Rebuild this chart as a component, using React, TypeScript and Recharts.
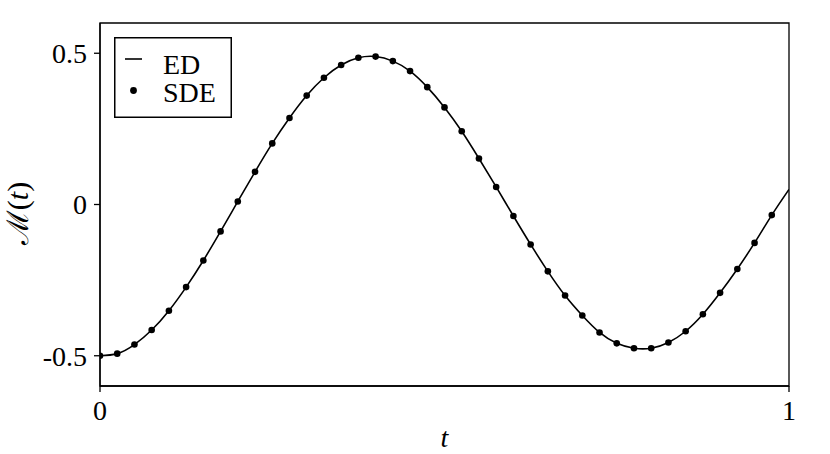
import React from "react";
import {
  ComposedChart,
  Line,
  Scatter,
  XAxis,
  YAxis,
  Legend,
  ReferenceArea,
} from "recharts";

const FONT = "Liberation Serif, Times New Roman, DejaVu Serif, serif";

// SDE samples (dots)
const sdeT = [
  0, 0.025, 0.05, 0.075, 0.1, 0.125, 0.15, 0.175, 0.2, 0.225,
  0.25, 0.275, 0.3, 0.325, 0.35, 0.375, 0.4, 0.425, 0.45, 0.475,
  0.5, 0.525, 0.55, 0.575, 0.6, 0.625, 0.65, 0.675, 0.7, 0.725,
  0.75, 0.775, 0.8, 0.825, 0.85, 0.875, 0.9, 0.925, 0.95, 0.975,
];
const sdeM = [
  -0.5, -0.493, -0.463, -0.415, -0.351, -0.273, -0.185, -0.089, 0.01, 0.108,
  0.202, 0.286, 0.36, 0.419, 0.461, 0.485, 0.489, 0.474, 0.441, 0.388,
  0.321, 0.242, 0.152, 0.058, -0.038, -0.132, -0.221, -0.301, -0.367, -0.423,
  -0.459, -0.475, -0.475, -0.456, -0.419, -0.363, -0.292, -0.213, -0.127, -0.035,
];

// ED curve (solid line)
const edT = [...sdeT, 1];
const edM = [
  -0.5, -0.493, -0.463, -0.415, -0.351, -0.273, -0.185, -0.089, 0.01, 0.108,
  0.202, 0.286, 0.36, 0.419, 0.461, 0.485, 0.489, 0.474, 0.441, 0.388,
  0.321, 0.242, 0.152, 0.058, -0.038, -0.132, -0.221, -0.301, -0.367, -0.423,
  -0.459, -0.475, -0.475, -0.456, -0.419, -0.363, -0.292, -0.213, -0.127, -0.035,
  0.05,
];

const xTicks = [0, 1];
const xTickLabels = ["0", "1"];
const yTicks = [-0.5, 0, 0.5];
const yTickLabels = ["-0.5", "0", "0.5"];

const edData = edT.map((t, i) => ({ t, m: edM[i] }));
const sdeData = sdeT.map((t, i) => ({ t, m: sdeM[i] }));

const textStyle = { fontFamily: FONT };

function YLabel({ viewBox }: any) {
  const cy = viewBox.y + viewBox.height / 2 + 9;
  const x = 28;
  return (
    <text
      x={x}
      y={cy}
      transform={`rotate(-90, ${x}, ${cy})`}
      textAnchor="middle"
      fontSize={30}
      style={textStyle}
      fill="#000"
    >
      <tspan>ℳ(</tspan>
      <tspan fontStyle="italic">t</tspan>
      <tspan>)</tspan>
    </text>
  );
}

function XLabel({ viewBox }: any) {
  const cx = viewBox.x + viewBox.width / 2;
  return (
    <text
      x={cx}
      y={447}
      textAnchor="middle"
      fontSize={28}
      fontStyle="italic"
      style={textStyle}
      fill="#000"
    >
      t
    </text>
  );
}

function LegendBox({ payload }: any) {
  const items = payload || [];
  return (
    <svg width={118} height={81} style={{ display: "block" }}>
      <rect x={0.75} y={0.75} width={116.5} height={79.5} fill="#fff" stroke="#000" strokeWidth={1.5} />
      {items.map((entry: any, i: number) => {
        const my = 22 + i * 31.5;
        const ty = 36.5 + i * 28.5;
        return (
          <g key={entry.value}>
            {entry.type === "line" ? (
              <line x1={11} x2={28} y1={my} y2={my} stroke="#000" strokeWidth={1.6} />
            ) : (
              <circle cx={19.5} cy={my} r={3.4} fill="#000" />
            )}
            <text x={49} y={ty} fontSize={28} style={textStyle} fill="#000">
              {entry.value}
            </text>
          </g>
        );
      })}
    </svg>
  );
}

const Dot = (props: any) => <circle cx={props.cx} cy={props.cy} r={3.3} fill="#000" />;

export default function App() {
  return (
    <div style={{ position: "absolute", left: 0, top: 0, width: 830, height: 454, background: "#fff", fontFamily: FONT }}>
      <ComposedChart
        width={830}
        height={454}
        margin={{ top: 23, right: 41, bottom: 0, left: 0 }}
        style={{ fontFamily: FONT }}
      >
        <XAxis
          dataKey="t"
          type="number"
          domain={[0, 1]}
          ticks={xTicks}
          tickFormatter={(v: number) => xTickLabels[xTicks.indexOf(v)]}
          height={68}
          tickSize={6}
          tickMargin={8}
          axisLine={{ stroke: "#000", strokeWidth: 1.3 }}
          tickLine={{ stroke: "#000", strokeWidth: 1.3 }}
          tick={{ fill: "#000", fontSize: 28, style: textStyle }}
          allowDataOverflow
          label={<XLabel />}
        />
        <YAxis
          type="number"
          domain={[-0.6, 0.6]}
          ticks={yTicks}
          tickFormatter={(v: number) => yTickLabels[yTicks.indexOf(v)]}
          width={100}
          tickSize={6}
          tickMargin={7}
          axisLine={{ stroke: "#000", strokeWidth: 1.3 }}
          tickLine={{ stroke: "#000", strokeWidth: 1.3 }}
          tick={{ fill: "#000", fontSize: 28, style: textStyle }}
          allowDataOverflow
          label={<YLabel />}
        />
        <ReferenceArea
          x1={0}
          x2={1}
          y1={-0.6}
          y2={0.6}
          fill="none"
          stroke="#000"
          strokeWidth={1.3}
          fillOpacity={0}
        />
        <Line
          data={edData}
          dataKey="m"
          name="ED"
          type="natural"
          stroke="#000"
          strokeWidth={1.6}
          dot={false}
          activeDot={false}
          legendType="line"
          isAnimationActive={false}
        />
        <Scatter
          data={sdeData}
          dataKey="m"
          name="SDE"
          fill="#000"
          shape={Dot}
          legendType="circle"
          isAnimationActive={false}
        />
        <Legend
          layout="vertical"
          align="center"
          verticalAlign="middle"
          wrapperStyle={{ left: 114, top: 37, width: 118, height: 81 }}
          content={<LegendBox />}
        />
      </ComposedChart>
    </div>
  );
}
